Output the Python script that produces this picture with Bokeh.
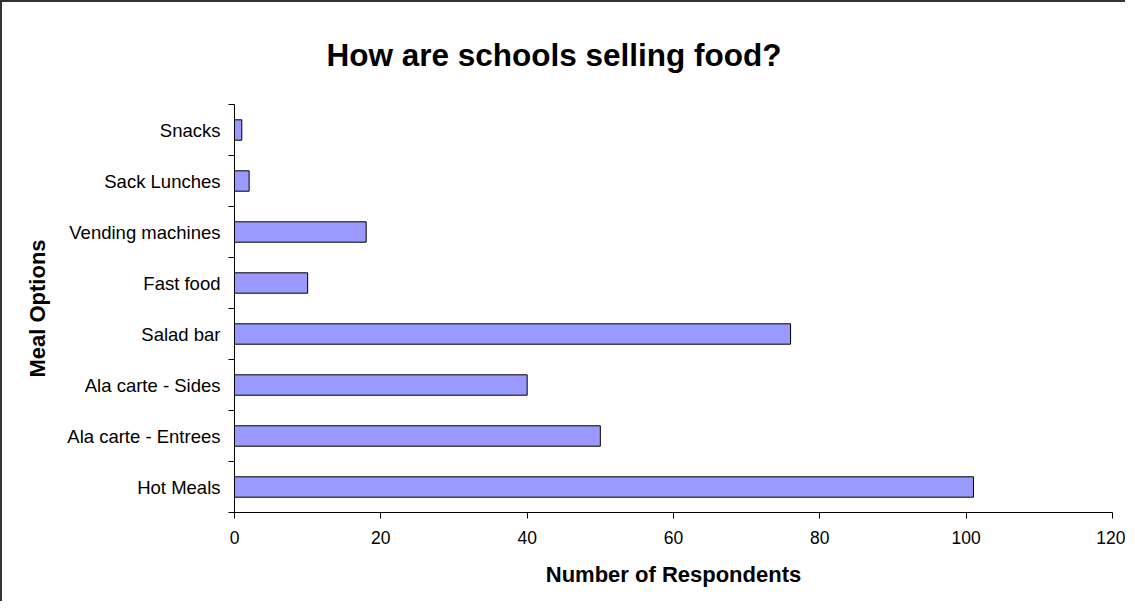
from bokeh.plotting import figure
from bokeh.models import Range1d, FixedTicker
from bokeh.embed import file_html
from bokeh.resources import INLINE

categories = ["Hot Meals", "Ala carte - Entrees", "Ala carte - Sides", "Salad bar",
              "Fast food", "Vending machines", "Sack Lunches", "Snacks"]
respondents = [101, 50, 40, 76, 10, 18, 2, 1]
x_ticks = [0, 20, 40, 60, 80, 100, 120]
title_text = "How are schools selling food?"
x_label = "Number of Respondents"
y_label = "Meal Options"

n = len(categories)
positions = [i + 0.5 for i in range(n)]
boundaries = list(range(n + 1))

FONT = "Liberation Sans"

p = figure(width=1125, height=601, output_backend="svg", toolbar_location=None,
           x_range=Range1d(x_ticks[0], x_ticks[-1]), y_range=Range1d(0, n),
           min_border_left=232, min_border_right=15, min_border_top=102,
           min_border_bottom=91)
p.styles = {"border-left": "2px solid #333", "border-top": "2px solid #333"}

p.hbar(y=positions, left=0, right=respondents, height=0.4,
       fill_color="#9999FF", line_color="black", line_width=1)

p.xgrid.visible = False
p.ygrid.visible = False
p.outline_line_color = None
p.background_fill_color = "white"
p.border_fill_color = "white"

p.title.text = title_text
p.title.align = "left"
p.title.offset = 92
p.title.text_font = FONT
p.title.text_font_size = "31.5px"
p.title.text_font_style = "bold"
p.title.text_color = "black"
p.title.standoff = 64

xa = p.xaxis[0]
xa.ticker = FixedTicker(ticks=x_ticks)
xa.axis_line_color = "black"
xa.major_tick_in = 0
xa.major_tick_out = 6
xa.minor_tick_in = 0
xa.minor_tick_out = 0
xa.major_tick_line_color = "black"
xa.major_label_text_font = FONT
xa.major_label_text_font_size = "17.5px"
xa.major_label_text_color = "black"
xa.major_label_standoff = 12
xa.axis_label = x_label
xa.axis_label_text_font = FONT
xa.axis_label_text_font_size = "22px"
xa.axis_label_text_font_style = "bold"
xa.axis_label_text_color = "black"
xa.axis_label_standoff = 15

ya = p.yaxis[0]
ya.ticker = FixedTicker(ticks=positions, minor_ticks=boundaries)
ya.major_label_overrides = {pos: cat for pos, cat in zip(positions, categories)}
ya.axis_line_color = "black"
ya.major_tick_in = 0
ya.major_tick_out = 0
ya.minor_tick_in = 0
ya.minor_tick_out = 6
ya.minor_tick_line_color = "black"
ya.major_label_text_font = FONT
ya.major_label_text_font_size = "18.5px"
ya.major_label_text_color = "black"
ya.major_label_standoff = 8
ya.axis_label = y_label
ya.axis_label_text_font = FONT
ya.axis_label_text_font_size = "22px"
ya.axis_label_text_font_style = "bold"
ya.axis_label_text_color = "black"
ya.axis_label_standoff = 14

open("out.html", "w").write(file_html(p, INLINE))
